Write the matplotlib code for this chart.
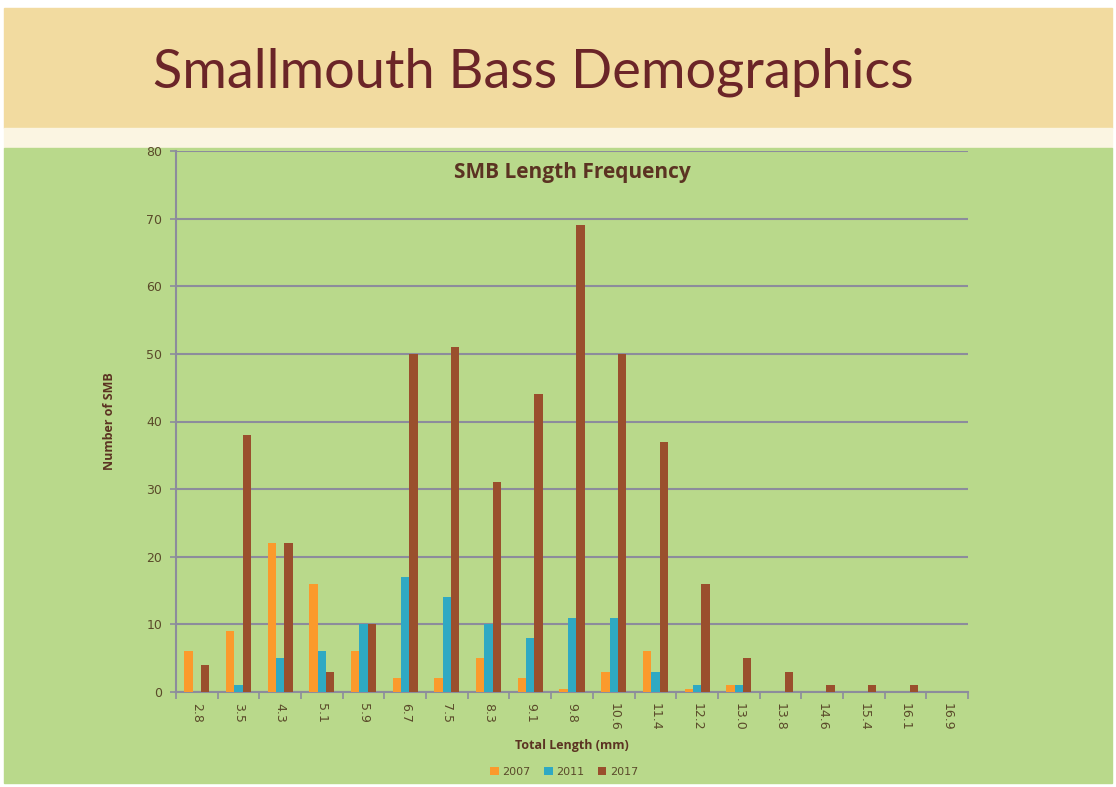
import numpy as np
import matplotlib.pyplot as plt
from matplotlib.patches import Rectangle

# data
lengths = ['2.8', '3.5', '4.3', '5.1', '5.9', '6.7', '7.5', '8.3', '9.1', '9.8',
           '10.6', '11.4', '12.2', '13.0', '13.8', '14.6', '15.4', '16.1', '16.9']
smb_2007 = [6, 9, 22, 16, 6, 2, 2, 5, 2, 0.5, 3, 6, 0.5, 1, 0, 0, 0, 0, 0]
smb_2011 = [0, 1, 5, 6, 10, 17, 14, 10, 8, 11, 11, 3, 1, 1, 0, 0, 0, 0, 0]
smb_2017 = [4, 38, 22, 3, 10, 50, 51, 31, 44, 69, 50, 37, 16, 5, 3, 1, 1, 1, 0]
years = ['2007', '2011', '2017']
colors = ['#fb9a2c', '#2fa9c3', '#9a4f2d']

W, H = 1116, 787
fig = plt.figure(figsize=(W / 100, H / 100), dpi=100)
fig.patch.set_facecolor('white')

# slide background bands (pixel coords -> figure fraction)
def band(x0, y0, x1, y1, color):
    fig.patches.append(Rectangle((x0 / W, 1 - y1 / H), (x1 - x0) / W, (y1 - y0) / H,
                                 transform=fig.transFigure, color=color, zorder=-10))

band(4, 8, 1112, 128, '#f2dba0')
band(4, 128, 1112, 148, '#fbf5e2')
band(4, 148, 1112, 783, '#b9d98b')

fig.text(533 / W, 1 - 72 / H, 'Smallmouth Bass Demographics', ha='center', va='center',
         fontsize=39, color='#6b2528', family='Lato')

ax = fig.add_axes([176 / W, 1 - 692 / H, (968 - 176) / W, (692 - 151) / H])
ax.set_facecolor('none')

x = np.arange(len(lengths))
w = 0.2
for i, (vals, yr) in enumerate(zip([smb_2007, smb_2011, smb_2017], years)):
    ax.bar(x + (i - 1) * w, vals, width=w, color=colors[i], label=yr, zorder=3)

ax.set_xlim(-0.5, len(lengths) - 0.5)
ax.set_ylim(0, 80)
ax.set_yticks(np.arange(0, 81, 10))
ax.grid(axis='y', color='#8c8c9c', linewidth=1.5, zorder=1)

ax.set_xticks(x)
ax.set_xticklabels(lengths, rotation=-90)
ax.set_xticks(np.arange(-0.5, len(lengths)), minor=True)
ax.tick_params(axis='x', which='major', length=0, pad=8, labelsize=9, labelcolor='#5a4a2a')
ax.tick_params(axis='x', which='minor', length=5, color='#8c8c9c', width=1.2)
ax.tick_params(axis='y', length=4, color='#8c8c9c', width=1.2, labelsize=9,
               labelcolor='#5a4a2a', pad=6)

for s in ['top', 'right']:
    ax.spines[s].set_visible(False)
for s in ['left', 'bottom']:
    ax.spines[s].set_color('#8c8c9c')
    ax.spines[s].set_linewidth(1.5)

ax.text(0.5, 0.961, 'SMB Length Frequency', transform=ax.transAxes, ha='center',
        va='center', fontsize=15, fontweight='bold', color='#5b3322', family='Open Sans')
ax.set_ylabel('Number of SMB', fontsize=9, fontweight='bold', color='#5b3322',
              family='Open Sans', labelpad=22)
ax.set_xlabel('Total Length (mm)', fontsize=9, fontweight='bold', color='#5b3322',
              family='Open Sans', labelpad=6)

leg = ax.legend(loc='upper center', bbox_to_anchor=(0.49, -0.12), ncol=3, frameon=False,
                fontsize=8, handlelength=0.8, handleheight=0.8, handletextpad=0.3,
                columnspacing=1.2)
for t in leg.get_texts():
    t.set_color('#5a4a2a')

fig.savefig('out.png', dpi=100, facecolor=fig.get_facecolor())
